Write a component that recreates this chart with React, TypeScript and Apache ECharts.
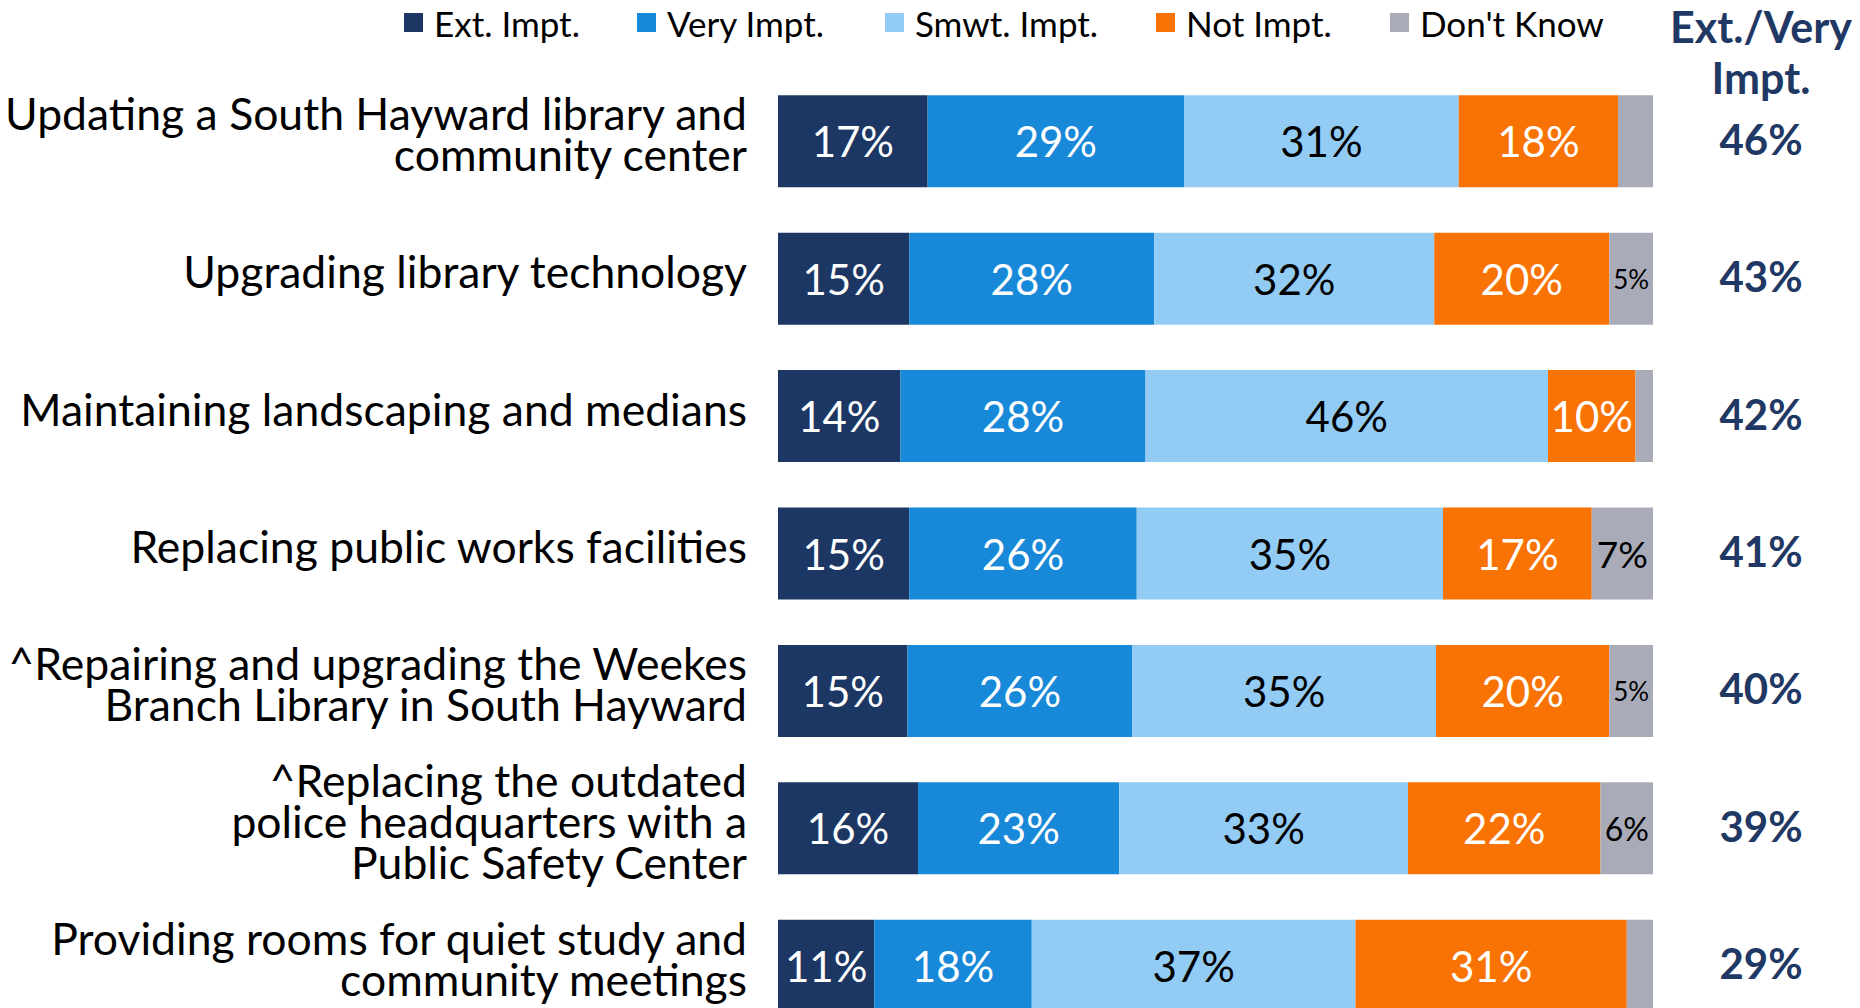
import React, { useEffect, useRef } from "react";
import * as echarts from "echarts";

const categories = [
  "Updating a South Hayward library and\ncommunity center",
  "Upgrading library technology",
  "Maintaining landscaping and medians",
  "Replacing public works facilities",
  "^Repairing and upgrading the Weekes\nBranch Library in South Hayward",
  "^Replacing the outdated\npolice headquarters with a\nPublic Safety Center",
  "Providing rooms for quiet study and\ncommunity meetings",
];

const seriesNames = ["Ext. Impt.", "Very Impt.", "Smwt. Impt.", "Not Impt.", "Don't Know"];

const extImpt = [17.1, 15, 14, 15, 14.8, 16, 11];
const veryImpt = [29.3, 28, 28, 26, 25.7, 23, 18];
const smwtImpt = [31.4, 32, 46, 35, 34.7, 33, 37];
const notImpt = [18.2, 20, 10, 17, 19.8, 22, 31];
const dontKnow = [4.0, 5, 2, 7, 5.0, 6, 3];

const extVery = [46, 43, 42, 41, 40, 39, 29];

const colors = ["#1C3763", "#1888D8", "#92CBF4", "#F87304", "#A9ABB9"];
const labelColors = ["#FFFFFF", "#FFFFFF", "#000000", "#FFFFFF", "#000000"];

const FONT = "Lato, 'Open Sans', sans-serif";

export default function App() {
  const ref = useRef<HTMLDivElement>(null);

  useEffect(() => {
    document.body.style.margin = "0";
    if (!ref.current) return;
    const chart = echarts.init(ref.current, null, { renderer: "svg" });

    const allSeries = [extImpt, veryImpt, smwtImpt, notImpt, dontKnow];
    const plotWidth = 875;

    const series = allSeries.map((vals, si) => ({
      name: seriesNames[si],
      type: "bar",
      stack: "total",
      barWidth: 92,
      clip: true,
      xAxisIndex: 0,
      yAxisIndex: 0,
      itemStyle: { color: colors[si] },
      data: vals.map((v) => {
        const w = (v / 100) * plotWidth;
        const fs = Math.min(42, Math.round(w * 0.6));
        return {
          value: v,
          label: {
            show: v >= 4.5,
            position: "inside",
            formatter: Math.round(v) + "%",
            color: labelColors[si],
            fontFamily: FONT,
            fontSize: fs,
          },
        };
      }),
    }));

    const legendLefts = [404, 637, 885, 1156, 1390];
    const legends = seriesNames.map((n, i) => ({
      data: [n],
      left: legendLefts[i],
      top: 5,
      padding: 0,
      itemWidth: 19,
      itemHeight: 19,
      icon: "rect",
      selectedMode: false,
      textStyle: {
        fontFamily: FONT,
        fontSize: 35,
        lineHeight: 30,
        color: "#000",
        padding: [0, 0, 0, 6],
      },
    }));

    chart.setOption({
      animation: false,
      backgroundColor: "#ffffff",
      color: colors,
      legend: legends,
      grid: [
        { left: 778, top: 72.5, width: 875, height: 962, containLabel: false },
        { left: 778, top: 64.5, width: 875, height: 962, containLabel: false },
        { left: 778, top: 70, width: 875, height: 962, containLabel: false },
      ],
      xAxis: [
        { type: "value", min: 0, max: 100, show: false, gridIndex: 0 },
        { type: "value", min: 0, max: 100, show: false, gridIndex: 1 },
        { type: "value", min: 0, max: 100, show: false, gridIndex: 2 },
      ],
      yAxis: [
        {
          type: "category",
          inverse: true,
          gridIndex: 0,
          data: categories,
          show: false,
        },
        {
          type: "category",
          inverse: true,
          gridIndex: 1,
          data: categories,
          axisLine: { show: false },
          axisTick: { show: false },
          splitLine: { show: false },
          axisLabel: {
            margin: 31,
            align: "right",
            fontFamily: FONT,
            fontSize: 44.5,
            lineHeight: 41,
            color: "#000",
          },
        },
        {
          type: "category",
          inverse: true,
          position: "right",
          gridIndex: 2,
          data: categories,
          axisLine: { show: false },
          axisTick: { show: false },
          splitLine: { show: false },
          axisLabel: {
            margin: 108,
            align: "center",
            fontFamily: FONT,
            fontSize: 42,
            fontWeight: "bold",
            color: "#1F3864",
            formatter: (_v: string, idx: number) => extVery[idx] + "%",
          },
        },
      ],
      graphic: [
        {
          type: "text",
          x: 1761,
          y: 26,
          style: {
            text: "Ext./Very",
            textAlign: "center",
            textVerticalAlign: "middle",
            fontFamily: FONT,
            fontSize: 43,
            fontWeight: "bold",
            fill: "#1F3864",
          },
        },
        {
          type: "text",
          x: 1761,
          y: 77,
          style: {
            text: "Impt.",
            textAlign: "center",
            textVerticalAlign: "middle",
            fontFamily: FONT,
            fontSize: 43,
            fontWeight: "bold",
            fill: "#1F3864",
          },
        },
      ],
      series,
    });

    return () => chart.dispose();
  }, []);

  return (
    <div style={{ width: 1860, height: 1008, overflow: "hidden", position: "relative" }}>
      <div ref={ref} style={{ width: 1860, height: 1045 }} />
    </div>
  );
}
